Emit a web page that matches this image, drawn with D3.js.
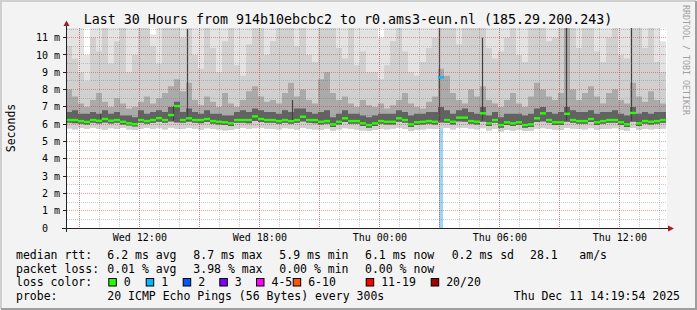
<!DOCTYPE html>
<html>
<head>
<meta charset="utf-8">
<script src="https://cdn.jsdelivr.net/npm/d3@7"></script>
<style>
  body { margin: 0; background: #f3f3f3; }
  text { font-family: "DejaVu Sans Mono", monospace; white-space: pre; }
</style>
</head>
<body>
<div id="chart"></div>
<script>
var title = "Last 30 Hours from 914b10ebcbc2 to r0.ams3-eun.nl (185.29.200.243)";
var startTime = new Date(2025, 11, 10, 8, 20),
    endTime = new Date(2025, 11, 11, 14, 20);
var slotMinutes = 18;

// median rtt per slot (ms)
var median = [6.24,6.24,6.18,6.13,6.24,6.20,6.30,6.20,6.24,6.14,
  6.05,6.00,6.24,6.18,6.24,6.35,6.24,6.53,7.05,6.24,
  6.34,6.24,6.24,6.30,6.18,6.14,6.11,6.05,6.24,6.24,
  6.24,6.45,6.30,6.24,6.24,6.18,6.24,6.18,6.24,6.43,
  6.24,6.24,6.14,6.18,5.99,6.14,6.34,6.18,6.18,6.05,
  5.95,6.05,6.18,6.14,6.14,6.34,6.24,5.99,6.11,6.14,
  6.18,6.14,8.70,6.24,6.14,6.38,6.38,6.18,6.14,6.63,
  6.05,6.24,5.95,6.11,6.05,6.11,5.95,5.99,6.34,6.63,
  6.24,6.11,6.11,6.60,6.24,6.18,6.18,6.30,6.11,6.18,
  6.24,6.24,6.11,5.99,6.65,6.05,6.18,6.14,6.18,6.24];

// smoke: lowest ping, lower inner ping, and tops of the four bands
var pingMin = [5.75,5.70,5.78,5.72,5.80,5.74,5.68,5.76,5.72,5.78,
  5.70,5.66,5.74,5.78,5.72,5.76,5.70,5.80,5.74,5.72,
  5.78,5.74,5.68,5.76,5.72,5.70,5.64,5.66,5.74,5.78,
  5.72,5.76,5.80,5.74,5.72,5.70,5.76,5.74,5.68,5.78,
  5.72,5.70,5.66,5.74,5.62,5.70,5.76,5.72,5.68,5.64,
  5.60,5.66,5.72,5.70,5.74,5.78,5.72,5.62,5.68,5.70,
  5.74,5.72,5.76,5.78,5.70,5.80,5.78,5.74,5.70,5.76,
  5.64,5.72,5.58,5.66,5.62,5.68,5.60,5.62,5.74,5.76,
  5.72,5.68,5.66,5.78,5.74,5.72,5.70,5.76,5.68,5.72,
  5.74,5.76,5.68,5.62,5.78,5.66,5.72,5.70,5.72,5.74];
var pingLow = [6.08,6.06,6.02,5.98,6.08,6.04,6.10,6.04,6.08,5.98,
  5.92,5.86,6.08,6.02,6.08,6.14,6.08,6.16,6.10,6.08,
  6.14,6.08,6.06,6.12,6.02,5.98,5.96,5.90,6.08,6.08,
  6.06,6.18,6.12,6.08,6.08,6.02,6.08,6.02,6.08,6.16,
  6.08,6.06,5.98,6.02,5.84,5.98,6.12,6.02,6.02,5.90,
  5.80,5.90,6.02,5.98,5.98,6.14,6.08,5.84,5.96,5.98,
  6.02,5.98,6.10,6.08,5.98,6.16,6.14,6.02,5.98,6.14,
  5.90,6.08,5.80,5.96,5.90,5.96,5.80,5.84,6.12,6.16,
  6.08,5.96,5.96,6.14,6.08,6.02,6.02,6.12,5.96,6.02,
  6.08,6.08,5.96,5.84,6.14,5.90,6.02,5.98,6.02,6.08];
var topA = [11.6,11.6,11.6,10.0,11.6,11.6,11.6,11.6,11.6,11.6,
  11.6,11.6,11.6,11.6,11.2,11.6,11.6,11.6,11.6,11.6,
  11.6,11.6,11.6,11.6,11.6,11.6,11.6,11.6,11.6,11.6,
  11.6,11.6,11.6,11.6,11.6,11.6,11.6,11.6,11.6,11.6,
  11.6,11.6,11.6,11.6,11.6,11.6,11.6,11.6,11.6,11.6,
  11.6,11.6,11.0,11.6,11.6,11.6,11.6,11.6,11.6,11.6,
  11.6,11.6,11.6,11.6,11.6,11.6,11.6,11.6,11.6,11.6,
  11.6,11.6,11.6,11.6,11.6,11.6,11.6,11.6,11.6,11.6,
  11.6,11.6,11.6,11.6,11.6,11.6,11.6,11.6,11.6,11.6,
  11.6,11.6,11.6,11.6,11.6,11.6,11.6,11.6,11.6,10.8];
var topB = [10.5,9.8,9.0,8.5,11.0,10.2,11.6,9.5,10.8,11.6,
  9.0,10.0,11.6,11.6,10.5,9.5,11.6,11.6,11.6,11.0,
  11.6,10.0,9.2,11.6,10.4,9.0,10.8,11.6,9.4,8.8,
  10.6,11.6,11.6,10.0,10.8,11.6,11.6,11.6,10.5,11.6,
  10.0,9.6,11.6,11.6,11.6,10.4,9.8,11.6,9.4,10.2,
  9.0,9.0,8.6,9.4,10.8,11.6,10.2,9.0,8.8,9.6,
  10.4,11.0,11.6,11.6,11.6,10.6,11.6,11.6,11.6,11.6,
  10.4,9.8,10.2,11.0,11.6,10.0,9.6,11.6,11.6,11.6,
  10.8,11.0,11.6,11.6,11.6,10.4,11.6,11.6,10.2,9.6,
  11.0,11.6,10.0,9.8,11.6,11.6,10.4,11.6,9.6,9.0];
var topC = [8.0,7.6,7.2,7.0,7.4,7.8,7.3,7.0,7.5,7.2,
  6.9,7.0,7.3,7.6,7.2,7.5,7.8,8.2,8.6,7.9,
  8.4,7.4,7.1,7.6,7.3,7.0,7.8,7.2,7.0,7.4,
  7.9,8.2,7.6,7.3,7.4,7.2,7.8,8.4,7.6,8.0,
  7.4,7.2,8.6,9.0,7.8,7.4,7.6,7.2,7.0,7.4,
  7.1,7.0,7.2,6.9,7.1,7.4,7.8,7.2,7.0,6.9,
  7.3,7.6,9.2,8.8,7.8,7.4,7.2,8.0,7.6,8.2,
  7.4,7.2,7.0,7.4,7.8,7.2,7.0,7.6,8.4,8.0,
  7.6,7.4,7.8,11.6,8.0,7.4,7.8,8.2,7.6,7.2,
  7.8,8.0,7.4,7.2,8.4,7.6,7.3,7.9,7.4,7.2];
var topD = [6.7,6.8,6.6,6.6,6.7,6.6,6.8,6.6,6.7,6.5,
  6.5,6.4,6.8,6.6,6.7,6.8,6.7,7.0,7.3,6.7,
  6.9,6.7,6.6,6.8,6.6,6.6,6.5,6.5,6.7,6.8,
  6.7,6.9,6.8,6.7,6.7,6.6,6.8,6.7,6.9,6.9,
  6.7,6.6,6.7,6.8,6.4,6.6,6.8,6.6,6.6,6.5,
  6.4,6.5,6.6,6.6,6.6,6.8,6.7,6.5,6.6,6.6,
  6.7,6.7,7.0,6.8,6.6,6.8,6.9,6.7,6.6,7.0,
  6.5,6.7,6.4,6.6,6.6,6.6,6.5,6.6,6.9,7.0,
  6.7,6.6,6.7,7.0,6.8,6.7,6.7,6.8,6.6,6.7,
  6.7,6.8,6.6,6.5,7.0,6.6,6.7,6.6,6.7,6.7];

// single 5-minute outliers (hours after start, top in ms)
var spikeHour = [1.7, 5.35, 6.05, 11.3, 18.65, 20.85, 25.0, 28.25];
var spikeTop = [6.6, 7.05, 11.5, 7.4, 11.6, 11.0, 11.6, 11.6];

// packet loss
var lossSlot = [62];
var lossPings = [1];

var yTicks = [0,1,2,3,4,5,6,7,8,9,10,11];
var lossLabels = ["0", "1", "2", "3", "4-5", "6-10", "11-19", "20/20"];
var lossColors = ["#26ff00", "#00b8ff", "#0059ff", "#7e00ff", "#ff00ff", "#ff5500", "#ff0000", "#a10000"];
var rttStats = ["median rtt:", "6.2 ms avg", "8.7 ms max", "5.9 ms min", "6.1 ms now", "0.2 ms sd", "28.1", "am/s"];
var lossStats = ["packet loss:", "0.01 % avg", "3.98 % max", "0.00 % min", "0.00 % now"];
var probeText = ["probe:", "20 ICMP Echo Pings (56 Bytes) every 300s"];
var stamp = "Thu Dec 11 14:19:54 2025";

var W = 697, H = 310;
var plotL = 66, plotR = 666, plotT = 28, plotB = 228;

var svg = d3.select("#chart").append("svg")
  .attr("width", W).attr("height", H);

svg.append("rect").attr("width", W).attr("height", H).attr("fill", "#f3f3f3");
svg.append("path").attr("d", "M1,309V1H696").attr("fill", "none").attr("stroke", "#cfcfcf").attr("stroke-width", 2);
svg.append("path").attr("d", "M1,309H696V1").attr("fill", "none").attr("stroke", "#9e9e9e").attr("stroke-width", 2);

var x = d3.scaleTime().domain([startTime, endTime]).range([plotL, plotR]);
var y = d3.scaleLinear().domain([0, 11.56]).range([plotB, plotT]);

svg.append("rect").attr("x", plotL + 1).attr("y", plotT).attr("width", plotR - plotL).attr("height", plotB - plotT).attr("fill", "#fff");

svg.append("clipPath").attr("id", "plot").append("rect")
  .attr("x", plotL + 1).attr("y", plotT).attr("width", plotR - plotL).attr("height", plotB - plotT);
var g = svg.append("g").attr("clip-path", "url(#plot)");

function slotTime(i) { return d3.timeMinute.offset(startTime, i * slotMinutes); }
var pts = d3.range(median.length + 1).map(function(i) {
  return { t: slotTime(i), i: Math.min(i, median.length - 1) };
});

// loss bar under the smoke
lossSlot.forEach(function(s) {
  var bx = Math.floor(x(slotTime(s))) + 1;
  g.append("rect").attr("x", bx).attr("width", 4)
    .attr("y", y(median[s] - 0.1)).attr("height", plotB - y(median[s] - 0.1))
    .attr("fill", "#9dd6f3");
});

function band(lo, hi, color) {
  var area = d3.area()
    .x(function(d) { return x(d.t); })
    .y0(function(d) { return y(lo[d.i]); })
    .y1(function(d) { return y(hi[d.i]); })
    .curve(d3.curveStepAfter);
  g.append("path").datum(pts).attr("d", area).attr("fill", color);
}
band(pingMin, topA, "#e3e3e3");
band(pingMin, topB, "#d0d0d0");
band(pingLow, topC, "#aaaaaa");
band(pingLow, topD, "#626262");

g.selectAll(".spike").data(spikeHour).enter().append("line")
  .attr("x1", function(h) { return px(x(d3.timeMinute.offset(startTime, h * 60))); })
  .attr("x2", function(h) { return px(x(d3.timeMinute.offset(startTime, h * 60))); })
  .attr("y1", y(6.2))
  .attr("y2", function(h, k) { return y(spikeTop[k]); })
  .attr("stroke", "#404040").attr("stroke-width", 1.2);

// grid
function px(v) { return Math.floor(v) + 0.5; }
var minorX = d3.timeHour.every(1).range(startTime, endTime);
var majorX = d3.timeHour.every(3).range(startTime, endTime);
var labelX = d3.timeHour.every(6).range(startTime, endTime);
var grid = svg.append("g");
grid.selectAll(".vmin").data(minorX).enter().append("line")
  .attr("x1", function(d) { return px(x(d)); }).attr("x2", function(d) { return px(x(d)); })
  .attr("y1", plotT).attr("y2", plotB)
  .attr("stroke", "rgba(110,110,110,0.35)").attr("stroke-dasharray", "1,1");
grid.selectAll(".hmin").data(d3.range(0.5, 11.6, 1)).enter().append("line")
  .attr("x1", plotL + 1).attr("x2", plotR)
  .attr("y1", function(d) { return px(y(d)); }).attr("y2", function(d) { return px(y(d)); })
  .attr("stroke", "rgba(110,110,110,0.35)").attr("stroke-dasharray", "1,1");
grid.selectAll(".vmaj").data(majorX).enter().append("line")
  .attr("x1", function(d) { return px(x(d)); }).attr("x2", function(d) { return px(x(d)); })
  .attr("y1", plotT).attr("y2", plotB)
  .attr("stroke", "rgba(225,40,40,0.45)").attr("stroke-dasharray", "1,1");
grid.selectAll(".hmaj").data(yTicks.slice(1)).enter().append("line")
  .attr("x1", plotL + 1).attr("x2", plotR)
  .attr("y1", function(d) { return px(y(d)); }).attr("y2", function(d) { return px(y(d)); })
  .attr("stroke", "rgba(225,40,40,0.45)").attr("stroke-dasharray", "1,1");

// median line, coloured by loss
svg.selectAll(".med").data(median).enter().append("rect")
  .attr("x", function(d, i) { return x(slotTime(i)); })
  .attr("width", function(d, i) { return x(slotTime(i + 1)) - x(slotTime(i)); })
  .attr("y", function(d) { return y(d) - 1.2; })
  .attr("height", 2.4)
  .attr("fill", function(d, i) {
    var k = lossSlot.indexOf(i);
    return k < 0 ? lossColors[0] : lossColors[Math.min(lossPings[k], 3)];
  });

// axes
svg.append("line").attr("x1", 62).attr("x2", 668).attr("y1", plotB + 0.5).attr("y2", plotB + 0.5).attr("stroke", "#222");
svg.append("line").attr("x1", plotL + 0.5).attr("x2", plotL + 0.5).attr("y1", 232).attr("y2", 24).attr("stroke", "#222");
svg.append("path").attr("d", "M668,225.5L674,228.5L668,231.5Z").attr("fill", "#a31e1e");
svg.append("path").attr("d", "M63.5,26L66.5,20.5L69.5,26Z").attr("fill", "#a31e1e");
svg.selectAll(".ytick").data(yTicks).enter().append("line")
  .attr("x1", 63).attr("x2", plotL)
  .attr("y1", function(d) { return px(y(d)); }).attr("y2", function(d) { return px(y(d)); })
  .attr("stroke", "#222");

svg.selectAll(".ylab").data(yTicks).enter().append("text")
  .attr("x", 60).attr("y", function(d) { return y(d) + 3.6; })
  .attr("text-anchor", "end").attr("font-size", "10px").attr("fill", "#000")
  .text(function(d) { return d === 0 ? "0  " : d + " m"; });

var fmt = d3.timeFormat("%a %H:%M");
svg.selectAll(".xlab").data(labelX).enter().append("text")
  .attr("x", function(d) { return x(d) + 0.5; }).attr("y", 241)
  .attr("text-anchor", "middle").attr("font-size", "10px").attr("fill", "#000")
  .text(function(d) { return fmt(d); });

svg.append("text").attr("x", 348).attr("y", 24).attr("text-anchor", "middle")
  .attr("font-size", "13.3px").attr("fill", "#000").text(title);
svg.append("text").attr("transform", "translate(15,128) rotate(-90)").attr("text-anchor", "middle")
  .attr("font-size", "11.5px").attr("fill", "#000").text("Seconds");
svg.append("text").attr("transform", "translate(683,5) rotate(90)")
  .attr("font-size", "8.3px").attr("fill", "#a0a0a0").text("RRDTOOL / TOBI OETIKER");

// legend
var cols = [16, 107.3, 193.3, 279.3, 365, 451.7, 530, 579.3];
var legend = svg.append("g").attr("font-size", "11.5px").attr("fill", "#000");
rttStats.forEach(function(s, i) { legend.append("text").attr("x", cols[i]).attr("y", 259).text(s); });
lossStats.forEach(function(s, i) { legend.append("text").attr("x", cols[i]).attr("y", 272.5).text(s); });
legend.append("text").attr("x", 16).attr("y", 286).text("loss color:");
var boxX = [108.3, 145.7, 182.7, 219.3, 256, 292.7, 365.7, 430.7];
lossLabels.forEach(function(s, i) {
  legend.append("rect").attr("x", boxX[i] + 0.5).attr("y", 278.5).attr("width", 7.5).attr("height", 7.5)
    .attr("fill", lossColors[i]).attr("stroke", "#000");
  legend.append("text").attr("x", boxX[i] + 15.5).attr("y", 286).text(s);
});
legend.append("text").attr("x", 16).attr("y", 299.5).text(probeText[0]);
legend.append("text").attr("x", 107.3).attr("y", 299.5).text(probeText[1]);
legend.append("text").attr("x", 680).attr("y", 299.5).attr("text-anchor", "end").text(stamp);
</script>
</body>
</html>
